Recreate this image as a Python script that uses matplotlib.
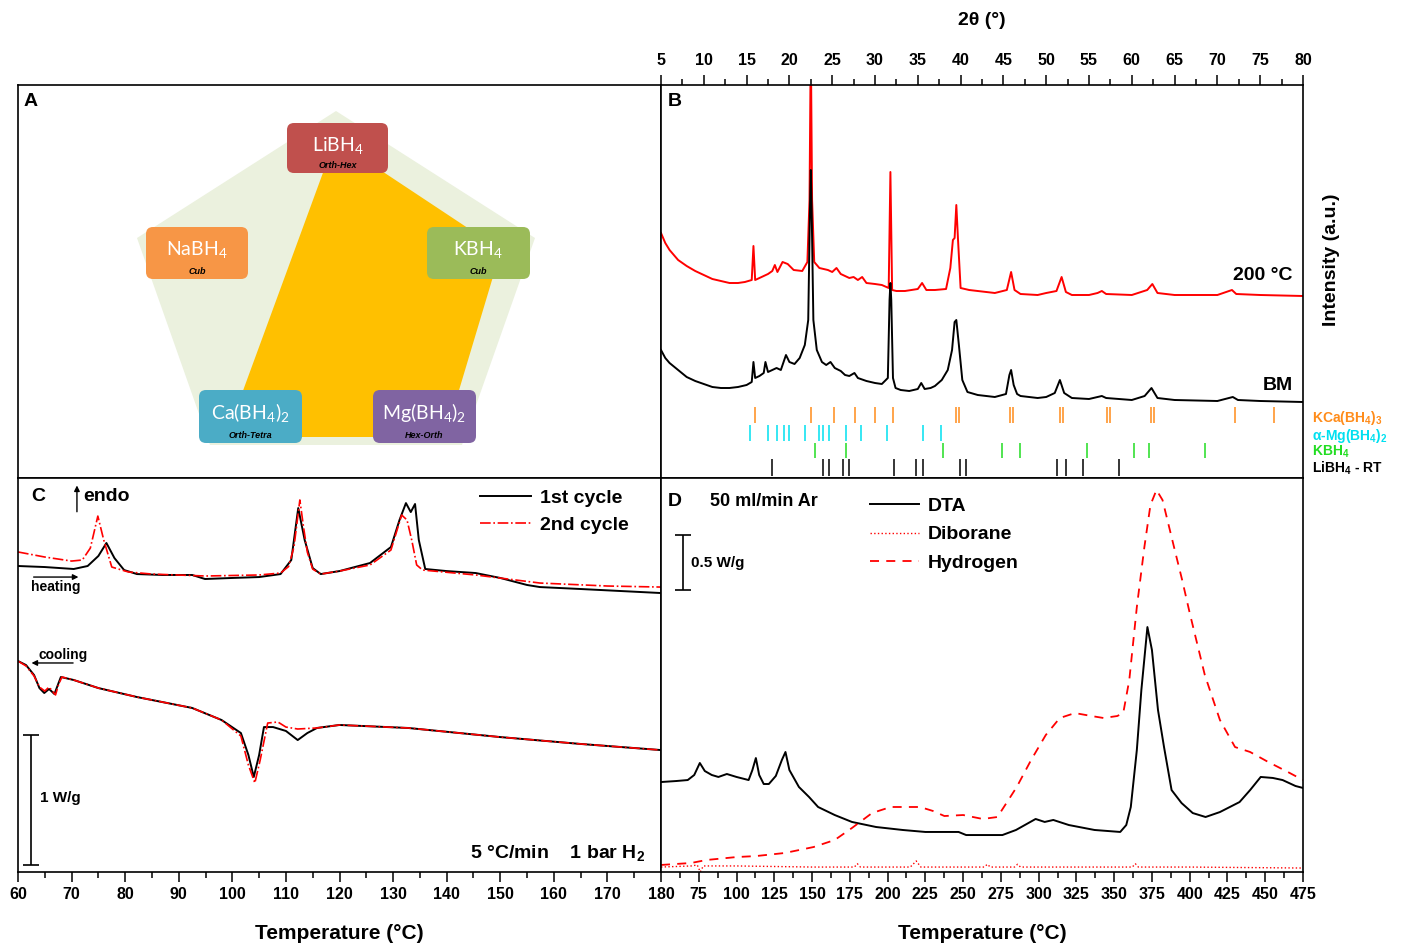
import matplotlib
matplotlib.use('Agg')
import matplotlib.pyplot as plt
from matplotlib.patches import Polygon, FancyBboxPatch
from matplotlib.lines import Line2D

plt.rcParams['font.family'] = ['Liberation Sans', 'DejaVu Sans']
plt.rcParams['font.weight'] = 'bold'
plt.rcParams['mathtext.default'] = 'regular'
plt.rcParams['axes.linewidth'] = 1.2

# ---------------- panel A: schematic (pixel layout of the diagram) ----------------
a_names = ['LiBH$_4$', 'NaBH$_4$', 'KBH$_4$', 'Ca(BH$_4$)$_2$', 'Mg(BH$_4$)$_2$']
a_struct = ['Orth-Hex', 'Cub', 'Cub', 'Orth-Tetra', 'Hex-Orth']
a_colors = ['#C0504D', '#F79646', '#9BBB59', '#4BACC6', '#8064A2']
a_boxes = [(287, 123, 388, 173), (146, 227, 248, 279), (427, 227, 530, 279),
           (199, 390, 302, 443), (373, 390, 476, 443)]
a_pentagon = [(336, 111), (535, 238), (462, 445), (210, 445), (137, 238)]
a_quad = [(335, 140), (501, 250), (445, 437), (226, 437)]

# ---------------- panel B: XRD ----------------
tt_bm = [5.0, 5.5, 6, 7, 8, 9, 10, 11, 12, 13, 14, 15.0, 15.6, 15.8, 16.0, 16.5, 17.0, 17.2,
         17.5, 18.5, 19.0, 19.6, 20.0, 20.6, 21.2, 21.8, 22.2, 22.4, 22.5, 22.6, 22.8, 23.2,
         23.8, 24.3, 24.8, 25.3, 26.0, 26.5, 27, 27.6, 28, 29, 30, 30.8, 31.5, 31.7, 31.8,
         31.9, 32.1, 32.4, 33, 34, 35.0, 35.4, 35.8, 36.5, 37, 37.8, 38.5, 39.0, 39.3, 39.5,
         39.8, 40.2, 40.8, 42, 44, 45.3, 45.7, 45.9, 46.2, 46.6, 47, 49, 50, 51.0, 51.6,
         52.1, 53, 55, 56.5, 57, 60, 61.5, 62.3, 63, 65, 70, 71.8, 72.4, 75, 80]
int_bm = [128, 120, 115, 108, 101, 97, 94, 91, 90, 90, 91, 93, 96, 116, 100, 102, 105, 116,
          106, 110, 108, 123, 116, 114, 120, 133, 158, 268, 308, 268, 158, 128,
          116, 113, 116, 110, 107, 103, 102, 105, 100, 97, 95, 94, 100, 178, 195,
          178, 100, 90, 88, 87, 89, 95, 89, 90, 92, 98, 108, 128, 156, 158,
          133, 98, 86, 83, 81, 84, 103, 108, 93, 84, 82, 80, 81, 85, 98,
          85, 80, 79, 82, 80, 78, 82, 90, 80, 78, 77, 81, 78, 77, 76]

tt_200 = [5.0, 5.5, 6, 7, 8, 9, 10, 11, 12, 13, 14, 14.8, 15.6, 15.8, 16.0, 16.5, 17.5, 18.0,
          18.3, 18.6, 19.2, 19.8, 20.5, 21.5, 22.1, 22.35, 22.5, 22.65, 22.9, 23.5, 24.5,
          25.0, 25.5, 26.0, 27, 27.5, 28.0, 28.5, 29, 30, 30.8, 31.6, 31.8, 32.0, 32.5, 33.5,
          35.0, 35.5, 36.0, 37, 38.3, 38.8, 39.1, 39.3, 39.5, 39.7, 40.0, 41, 43, 44, 45.4,
          45.9, 46.3, 47, 49, 50, 51.2, 51.8, 52.3, 53, 55, 56.0, 56.5, 57.0, 60, 61.8, 62.4,
          63.0, 65, 70, 71.7, 72.2, 75, 80]
int_200 = [140, 130, 123, 113, 107, 102, 98, 94, 92, 90, 90, 91, 93, 127, 93, 95, 99, 102,
           108, 101, 111, 109, 103, 102, 111, 173, 333, 173, 111, 105, 103,
           101, 105, 99, 95, 96, 93, 96, 90, 89, 88, 85, 201, 83, 82, 82,
           84, 90, 83, 83, 84, 105, 133, 135, 168, 133, 85, 83, 81, 80, 83,
           101, 83, 79, 78, 80, 82, 96, 81, 78, 78, 80, 82, 79, 78, 83, 89,
           80, 78, 78, 83, 79, 78, 77]
offset_200 = 105

ref_names = ['KCa(BH$_4$)$_3$', r'$\alpha$-Mg(BH$_4$)$_2$', 'KBH$_4$', 'LiBH$_4$ - RT']
ref_colors = ['#FF8C1A', '#00E0F0', '#22DD22', '#000000']
ref_kca = [15.98, 22.52, 25.21, 27.66, 30.0, 32.10, 39.46, 39.81, 45.77, 46.12, 51.61, 51.96,
           57.10, 57.45, 62.24, 62.59, 72.06, 76.61]
ref_mg = [15.44, 17.50, 18.55, 19.37, 19.95, 21.82, 23.42, 23.98, 24.63, 26.57, 28.36, 31.40,
          35.55, 37.69]
ref_kbh = [22.97, 26.57, 37.94, 44.81, 46.89, 54.77, 60.26, 62.01, 68.52]
ref_libh = [17.97, 23.98, 24.63, 26.23, 26.96, 32.22, 34.79, 35.55, 39.93, 40.61, 51.26, 52.31,
            54.30, 58.50]

# ---------------- panel C: DSC (W/g) ----------------
c_heat1_T = [60, 65, 70.4, 73, 75, 76.5, 78, 79.8, 82.2, 87, 92.5, 94.9, 100, 105, 109, 111,
             112.3, 113.5, 115, 116.5, 120, 125.7, 129.6, 131.2, 132.4, 133.3, 134.1, 134.8,
             136, 140, 145.4, 150, 155, 157.4, 165, 180]
c_heat1_q = [2.354, 2.346, 2.331, 2.354, 2.431, 2.531, 2.415, 2.323, 2.292, 2.285, 2.285,
             2.254, 2.262, 2.269, 2.292, 2.4, 2.8, 2.554, 2.338, 2.292, 2.315, 2.377, 2.5,
             2.708, 2.838, 2.769, 2.831, 2.554, 2.331, 2.315, 2.3, 2.262, 2.208, 2.192,
             2.177, 2.146]
c_heat2_T = [60, 65, 70, 72, 73.5, 74.9, 76, 77.5, 80.6, 85, 95, 105, 109, 110.5, 111.5, 112.6,
             113.3, 114, 115, 116.5, 120, 125.7, 129.6, 131.6, 132.6, 133.5, 134.4, 135.5,
             145.4, 157.4, 170, 180]
c_heat2_q = [2.462, 2.423, 2.392, 2.4, 2.492, 2.738, 2.554, 2.346, 2.308, 2.292, 2.277, 2.285,
             2.3, 2.35, 2.5, 2.862, 2.65, 2.46, 2.33, 2.292, 2.315, 2.362, 2.477, 2.746,
             2.708, 2.55, 2.362, 2.323, 2.285, 2.223, 2.2, 2.192]
c_cool1_T = [60, 61.5, 63, 64, 64.9, 65.8, 66.8, 67.5, 68, 70.4, 75, 82.2, 92.5, 98, 101.6,
             103, 104, 105, 105.9, 107.6, 110, 112.2, 114, 115.8, 120, 132.8, 150, 165, 180]
c_cool1_q = [1.623, 1.592, 1.515, 1.415, 1.377, 1.408, 1.369, 1.446, 1.5, 1.477, 1.415,
             1.346, 1.262, 1.169, 1.069, 0.9, 0.731, 0.9, 1.115, 1.115, 1.085, 1.015, 1.069,
             1.108, 1.131, 1.108, 1.038, 0.985, 0.938]
c_cool2_T = [60, 61.5, 63, 64, 65, 65.8, 67, 67.6, 68.2, 70.4, 75, 82.2, 92.5, 98, 101.6, 103,
             104.2, 105.2, 106.6, 108.5, 110, 112.2, 115.8, 120, 132.8, 150, 165, 180]
c_cool2_q = [1.623, 1.585, 1.508, 1.423, 1.392, 1.423, 1.362, 1.446, 1.5, 1.477, 1.415,
             1.346, 1.262, 1.169, 1.046, 0.823, 0.685, 0.862, 1.146, 1.154, 1.115, 1.1,
             1.108, 1.131, 1.108, 1.038, 0.985, 0.938]

# ---------------- panel D: DTA + MS ----------------
d_T = [50, 60, 67.7, 72, 75.7, 79, 83.6, 88, 93.6, 100, 108, 110.5, 112.8, 115, 118, 121.4,
       126, 130, 132.4, 135, 141.3, 148, 154, 165, 176.4, 192.4, 210, 225, 247, 252, 260, 276,
       285, 298, 304, 309.7, 320, 337, 354, 358, 361, 365, 368, 372, 375, 379, 383, 388,
       394.6, 402, 410.5, 420, 433, 440, 447, 455, 461.5, 470, 475]
d_dta = [0.818, 0.827, 0.836, 0.882, 0.991, 0.918, 0.882, 0.864, 0.891, 0.864, 0.836, 0.927,
         1.036, 0.882, 0.8, 0.8, 0.873, 1.018, 1.091, 0.927, 0.773, 0.682, 0.591, 0.518,
         0.455, 0.409, 0.382, 0.364, 0.364, 0.336, 0.336, 0.336, 0.382, 0.482, 0.455, 0.473,
         0.427, 0.382, 0.364, 0.427, 0.591, 1.109, 1.655, 2.227, 2.018, 1.473, 1.136, 0.745,
         0.627, 0.536, 0.5, 0.545, 0.636, 0.745, 0.864, 0.855, 0.836, 0.782, 0.764]
h2_T = [50, 70, 80, 100, 113, 132, 151, 165, 176.4, 189.7, 202, 221.5, 230, 237.6, 250, 263,
        272.7, 280, 285.5, 295, 304.7, 314, 324, 335, 343, 352, 356, 360, 365, 370, 374, 378,
        382, 389.6, 395, 400, 410, 420, 430, 440, 452, 465, 475]
h2_sig = [0.064, 0.082, 0.109, 0.136, 0.145, 0.173, 0.227, 0.291, 0.4, 0.536, 0.591, 0.591,
          0.555, 0.509, 0.518, 0.482, 0.5, 0.655, 0.773, 1.018, 1.245, 1.4, 1.445, 1.418,
          1.4, 1.418, 1.445, 1.745, 2.409, 2.955, 3.336, 3.473, 3.382, 2.955, 2.655, 2.355,
          1.791, 1.382, 1.136, 1.091, 1.0, 0.909, 0.836]
b2h6_T = [50, 70, 74, 76, 78, 100, 150, 178, 180, 182, 215, 219, 222, 264, 266, 268, 284, 286,
          288, 362, 364, 366, 400, 475]
b2h6_sig = [0.045, 0.055, 0.064, 0.0, 0.055, 0.055, 0.045, 0.045, 0.075, 0.045, 0.045, 0.1,
            0.045, 0.045, 0.07, 0.045, 0.045, 0.07, 0.045, 0.045, 0.075, 0.045, 0.045, 0.036]

# ---------------- layout ----------------
W, H = 1412, 949
L, MX, R = 18 / W, 661 / W, 1303 / W
T, MY, B = 1 - 85 / H, 1 - 478 / H, 1 - 872 / H

fig = plt.figure(figsize=(W / 100, H / 100), dpi=100)
ax_a = fig.add_axes([L, MY, MX - L, T - MY])
ax_b = fig.add_axes([MX, MY, R - MX, T - MY])
ax_c = fig.add_axes([L, B, MX - L, MY - B])
ax_d = fig.add_axes([MX, B, R - MX, MY - B])

# --- A ---
ax_a.set_xlim(18, 661)
ax_a.set_ylim(478, 85)
ax_a.set_xticks([])
ax_a.set_yticks([])
ax_a.add_patch(Polygon(a_pentagon, closed=True, fc='#EBF1DE', ec='none'))
ax_a.add_patch(Polygon(a_quad, closed=True, fc='#FFC000', ec='none'))
for name, st, col, (x0, y0, x1, y1) in zip(a_names, a_struct, a_colors, a_boxes):
    ax_a.add_patch(FancyBboxPatch((x0, y0), x1 - x0, y1 - y0,
                                  boxstyle='round,pad=0,rounding_size=7',
                                  fc=col, ec='none'))
    cx = (x0 + x1) / 2
    ax_a.text(cx, y0 + 23, name, color='white', fontsize=14, family=['Lato', 'DejaVu Sans'],
              weight='normal', ha='center', va='center')
    ax_a.text(cx, y1 - 7, st, color='black', fontsize=6.5, style='italic', weight='bold',
              ha='center', va='center')
ax_a.text(24, 101, 'A', fontsize=14, ha='left', va='center')

# --- B ---
ax_b.plot(tt_200, [v + offset_200 for v in int_200], color='red', lw=1.4)
ax_b.plot(tt_bm, int_bm, color='black', lw=1.4)
ax_b.set_xlim(5, 80)
ax_b.set_ylim(0, 393)
ax_b.set_yticks([])
ax_b.set_xticks(range(5, 81, 5))
ax_b.set_xticks([x + 2.5 for x in range(5, 80, 5)], minor=True)
ax_b.tick_params(axis='x', which='both', top=True, bottom=False, labeltop=True,
                 labelbottom=False, direction='out', labelsize=11.5, pad=5)
ax_b.tick_params(axis='x', which='major', length=7, width=1.1)
ax_b.tick_params(axis='x', which='minor', length=4, width=1.1)
ref_sets = [ref_kca, ref_mg, ref_kbh, ref_libh]
ref_rows = [(55, 71), (37, 53), (20, 35), (2, 19)]
ref_label_y = [60, 42, 26, 10]
for pos, col, (y0, y1), name, ly in zip(ref_sets, ref_colors, ref_rows, ref_names, ref_label_y):
    ax_b.vlines(pos, y0, y1, color=col, lw=1.1)
    ax_b.text(1.014, ly, name, color=col, fontsize=10,
              transform=ax_b.get_yaxis_transform(), ha='left', va='center')
ax_b.text(0.984, 203, '200 °C', fontsize=14, ha='right', va='center',
          transform=ax_b.get_yaxis_transform())
ax_b.text(0.984, 93, 'BM', fontsize=14, ha='right', va='center',
          transform=ax_b.get_yaxis_transform())
ax_b.text(0.01, 0.958, 'B', fontsize=14, ha='left', va='center', transform=ax_b.transAxes)
ax_b.text(1.045, 0.555, 'Intensity (a.u.)', fontsize=14, rotation=90, ha='center',
          va='center', transform=ax_b.transAxes)
ax_b.text(0.5, 1.163, '2θ (°)', fontsize=14, ha='center', va='center',
          transform=ax_b.transAxes)

# --- C ---
l1, = ax_c.plot(c_heat1_T, c_heat1_q, color='black', lw=1.4)
l2, = ax_c.plot(c_heat2_T, c_heat2_q, color='red', lw=1.2, ls='-.')
ax_c.plot(c_cool1_T, c_cool1_q, color='black', lw=1.4)
ax_c.plot(c_cool2_T, c_cool2_q, color='red', lw=1.2, ls='-.')
ax_c.set_xlim(60, 180)
ax_c.set_ylim(0, 3.031)
ax_c.set_yticks([])
ax_c.set_xticks(range(60, 181, 10))
ax_c.set_xticks(range(65, 180, 10), minor=True)
ax_c.legend([l1, l2], ['1st cycle', '2nd cycle'], loc='upper left',
            bbox_to_anchor=(0.7185, 0.972), frameon=False, fontsize=14, handlelength=2.6,
            handletextpad=0.5, labelspacing=0.5, borderpad=0, borderaxespad=0)
ax_c.text(62.4, 2.892, 'C', fontsize=14, ha='left', va='center')
ax_c.annotate('', xy=(71.0, 2.995), xytext=(71.0, 2.75),
              arrowprops=dict(arrowstyle='-|>', color='black', lw=1, mutation_scale=8))
ax_c.text(72.2, 2.892, 'endo', fontsize=14, ha='left', va='center')
ax_c.annotate('', xy=(71.8, 2.269), xytext=(62.4, 2.269),
              arrowprops=dict(arrowstyle='-|>', color='black', lw=1, mutation_scale=8))
ax_c.text(62.4, 2.19, 'heating', fontsize=10, ha='left', va='center')
ax_c.annotate('', xy=(62.0, 1.608), xytext=(70.8, 1.608),
              arrowprops=dict(arrowstyle='-|>', color='black', lw=1, mutation_scale=8))
ax_c.text(63.8, 1.669, 'cooling', fontsize=10, ha='left', va='center')
ax_c.errorbar([62.4], [0.554], yerr=[0.5], color='black', capsize=6, lw=1.2, capthick=1.2)
ax_c.text(64.1, 0.569, '1 W/g', fontsize=11, ha='left', va='center')
ax_c.text(177.0, 0.146, '5 °C/min    1 bar H$_2$', fontsize=14, ha='right', va='center')
ax_c.text(0.5, -0.155, 'Temperature (°C)', fontsize=15, ha='center', va='center',
          transform=ax_c.transAxes)

# --- D ---
ld, = ax_d.plot(d_T, d_dta, color='black', lw=1.4)
lb, = ax_d.plot(b2h6_T, b2h6_sig, color='red', lw=1.0, ls=':')
lh, = ax_d.plot(h2_T, h2_sig, color='red', lw=1.3, ls=(0, (5, 4)))
ax_d.set_xlim(50, 475)
ax_d.set_ylim(0, 3.582)
ax_d.set_yticks([])
ax_d.set_xticks(range(75, 476, 25))
ax_d.set_xticks([x + 12.5 for x in range(50, 475, 25)], minor=True)
ax_d.legend([ld, lb, lh], ['DTA', 'Diborane', 'Hydrogen'], loc='upper left',
            bbox_to_anchor=(0.3255, 0.952), frameon=False, fontsize=14, handlelength=2.5,
            handletextpad=0.45, labelspacing=0.58, borderpad=0, borderaxespad=0)
ax_d.text(0.01, 0.94, 'D', fontsize=14, ha='left', va='center', transform=ax_d.transAxes)
ax_d.text(0.076, 0.94, '50 ml/min Ar', fontsize=13, ha='left', va='center',
          transform=ax_d.transAxes)
ax_d.errorbar([64.4], [2.814], yerr=[0.25], color='black', capsize=6, lw=1.2, capthick=1.2)
ax_d.text(69.7, 2.809, '0.5 W/g', fontsize=11, ha='left', va='center')
ax_d.text(0.5, -0.155, 'Temperature (°C)', fontsize=15, ha='center', va='center',
          transform=ax_d.transAxes)

for ax in (ax_c, ax_d):
    ax.tick_params(axis='x', which='both', direction='out', labelsize=11.5, pad=4)
    ax.tick_params(axis='x', which='major', length=7, width=1.1)
    ax.tick_params(axis='x', which='minor', length=4, width=1.1)

fig.savefig('out.png', dpi=100)
